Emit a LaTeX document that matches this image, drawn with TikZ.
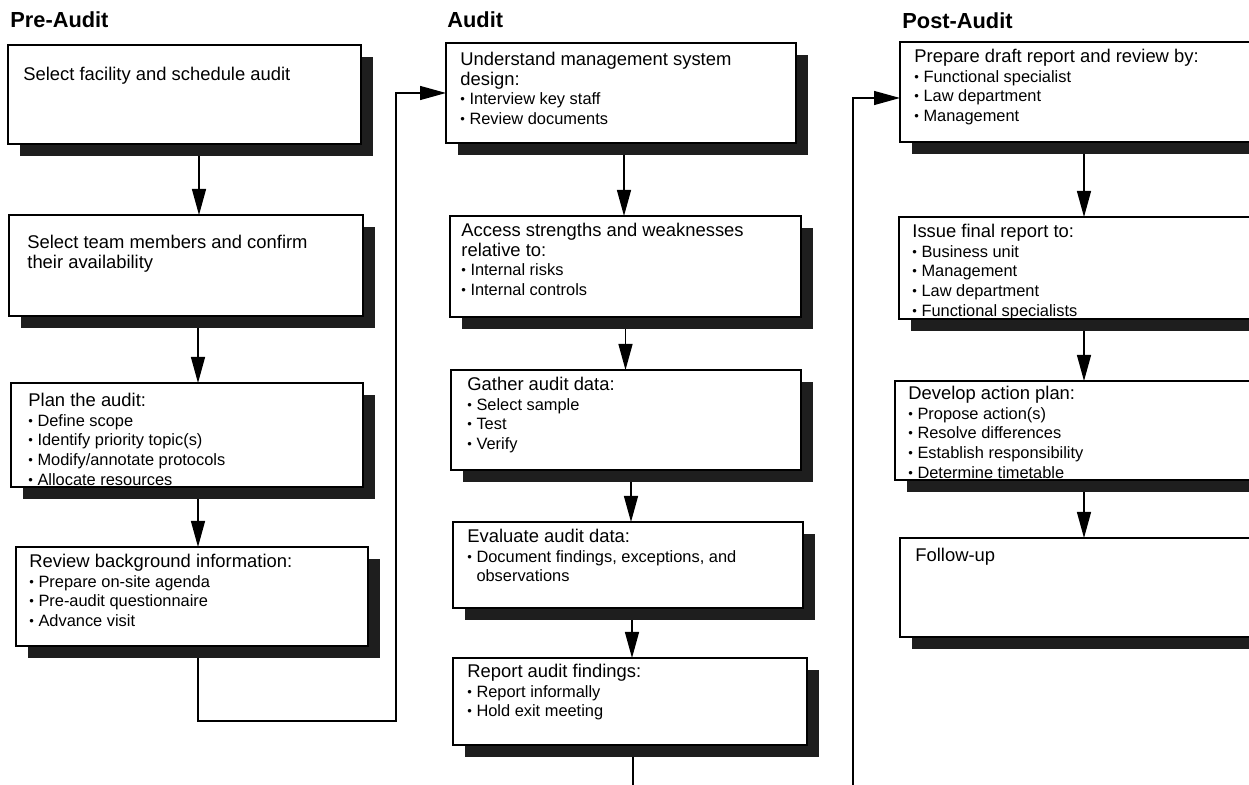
\documentclass[tikz,border=0pt]{standalone}
\usepackage{fontspec}
\setmainfont{Liberation Sans}
\usetikzlibrary{arrows.meta,shadows}

\definecolor{shadowink}{HTML}{1E1E1E}
\newcommand{\boxhead}[1]{{\fontsize{9.2pt}{9.8pt}\selectfont #1}}
\newcommand{\dotmark}{\raisebox{0.55pt}{\fontsize{6.5pt}{6.5pt}\selectfont\textbullet}}
\newcommand{\blt}[1]{\dotmark\ #1}

\tikzset{
  stepbox/.style={rectangle, draw=black, line width=0.65pt, fill=white,
    anchor=north west, inner sep=0pt, outer sep=0pt,
    general shadow={fill=shadowink, shadow xshift=6pt, shadow yshift=-6pt}},
  boxtext/.style={anchor=north west, inner sep=0pt, align=left,
    font=\fontsize{8.2pt}{9.8pt}\selectfont},
  phase/.style={anchor=base west, inner sep=0pt,
    font=\fontsize{10.9pt}{12pt}\selectfont\bfseries},
  flow/.style={draw=black, line width=0.65pt, -{Triangle[length=13pt,width=7pt]}},
}

\begin{document}
\begin{tikzpicture}[x=0.5pt,y=-0.5pt]
  \useasboundingbox (0,0) rectangle (1249,785);
  \clip (0,0) rectangle (1249,785);

  % Phase titles
  \node[phase] (prehd) at (10,28) {Pre-Audit};
  \node[phase] (audhd) at (447,28) {Audit};
  \node[phase] (posthd) at (902,29) {Post-Audit};

  % Pre-Audit column
  \node[stepbox, minimum width=176.5pt, minimum height=49.5pt] (pa1) at (8,45) {};
  \node[stepbox, minimum width=177pt, minimum height=50.5pt] (pa2) at (9,215) {};
  \node[stepbox, minimum width=176pt, minimum height=52pt] (pa3) at (11,383) {};
  \node[stepbox, minimum width=176pt, minimum height=49.5pt] (pa4) at (16,547) {};

  \node[boxtext] (pa1t) at ([xshift=7.5pt,yshift=-11pt]pa1.north west)
    {\boxhead{Select facility and schedule audit}};
  \node[boxtext] (pa2t) at ([xshift=9pt,yshift=-10pt]pa2.north west)
    {\boxhead{Select team members and confirm}\\ \boxhead{their availability}};
  \node[boxtext] (pa3t) at ([xshift=8.5pt,yshift=-5pt]pa3.north west)
    {\boxhead{Plan the audit:}\\ \blt{Define scope}\\ \blt{Identify priority topic(s)}\\
     \blt{Modify/annotate protocols}\\ \blt{Allocate resources}};
  \node[boxtext] (pa4t) at ([xshift=6.5pt,yshift=-3.5pt]pa4.north west)
    {\boxhead{Review background information:}\\ \blt{Prepare on-site agenda}\\
     \blt{Pre-audit questionnaire}\\ \blt{Advance visit}};

  % Audit column
  \node[stepbox, minimum width=175pt, minimum height=50pt] (au1) at (446,43) {};
  \node[stepbox, minimum width=175.5pt, minimum height=50.5pt] (au2) at (450,216) {};
  \node[stepbox, minimum width=175pt, minimum height=50pt] (au3) at (451,370) {};
  \node[stepbox, minimum width=175pt, minimum height=43pt] (au4) at (453,522) {};
  \node[stepbox, minimum width=177pt, minimum height=43.5pt] (au5) at (453,658) {};

  \node[boxtext] (au1t) at ([xshift=7pt,yshift=-4.5pt]au1.north west)
    {\boxhead{Understand management system}\\ \boxhead{design:}\\
     \blt{Interview key staff}\\ \blt{Review documents}};
  \node[boxtext] (au2t) at ([xshift=5.5pt,yshift=-3.5pt]au2.north west)
    {\boxhead{Access strengths and weaknesses}\\ \boxhead{relative to:}\\
     \blt{Internal risks}\\ \blt{Internal controls}};
  \node[boxtext] (au3t) at ([xshift=8pt,yshift=-3.5pt]au3.north west)
    {\boxhead{Gather audit data:}\\ \blt{Select sample}\\ \blt{Test}\\ \blt{Verify}};
  \node[boxtext] (au4t) at ([xshift=7pt,yshift=-3.5pt]au4.north west)
    {\boxhead{Evaluate audit data:}\\ \blt{Document findings, exceptions, and}\\
     \phantom{\dotmark\ }observations};
  \node[boxtext] (au5t) at ([xshift=7pt,yshift=-3pt]au5.north west)
    {\boxhead{Report audit findings:}\\ \blt{Report informally}\\ \blt{Hold exit meeting}};

  % Post-Audit column (runs past the right edge)
  \node[stepbox, minimum width=184pt, minimum height=50pt] (po1) at (900,42) {};
  \node[stepbox, minimum width=185pt, minimum height=51pt] (po2) at (899,217) {};
  \node[stepbox, minimum width=189pt, minimum height=49.5pt] (po3) at (895,381) {};
  \node[stepbox, minimum width=184pt, minimum height=49.5pt] (po4) at (900,538) {};

  \node[boxtext] (po1t) at ([xshift=7pt,yshift=-3.5pt]po1.north west)
    {\boxhead{Prepare draft report and review by:}\\ \blt{Functional specialist}\\
     \blt{Law department}\\ \blt{Management}};
  \node[boxtext] (po2t) at ([xshift=6.5pt,yshift=-3.5pt]po2.north west)
    {\boxhead{Issue final report to:}\\ \blt{Business unit}\\ \blt{Management}\\
     \blt{Law department}\\ \blt{Functional specialists}};
  \node[boxtext] (po3t) at ([xshift=6.5pt,yshift=-2.5pt]po3.north west)
    {\boxhead{Develop action plan:}\\ \blt{Propose action(s)}\\ \blt{Resolve differences}\\
     \blt{Establish responsibility}\\ \blt{Determine timetable}};
  \node[boxtext] (po4t) at ([xshift=7.5pt,yshift=-5pt]po4.north west)
    {\boxhead{Follow-up}};

  % Arrows inside the columns
  \draw[flow] ([xshift=7.25pt,yshift=-6pt]pa1.south) -- ([xshift=6.5pt]pa2.north);
  \draw[flow] ([xshift=6pt,yshift=-6pt]pa2.south) -- ([xshift=5.5pt]pa3.north);
  \draw[flow] ([xshift=5.5pt,yshift=-6pt]pa3.south) -- ([xshift=3pt]pa4.north);

  \draw[flow] ([xshift=1.5pt,yshift=-6pt]au1.south) -- ([xshift=-0.75pt]au2.north);
  \draw[flow] ([yshift=-6pt]au2.south) -- ([xshift=-0.25pt]au3.north);
  \draw[flow] ([xshift=2.5pt,yshift=-6pt]au3.south) -- ([xshift=1.5pt]au4.north);
  \draw[flow] ([xshift=2pt,yshift=-6pt]au4.south) -- ([xshift=1pt]au5.north);

  \draw[flow] ([yshift=-6pt]po1.south) -- (po2.north);
  \draw[flow] ([yshift=-6pt]po2.south) -- (po3.north);
  \draw[flow] ([yshift=-6pt]po3.south) -- (po4.north);

  % Links between phases
  \draw[flow] ([xshift=3pt,yshift=-6pt]pa4.south) -- ++(0,63)
    -| ([xshift=-25pt]au1.west) -- (au1.west);
  \draw[flow] ([xshift=1.5pt,yshift=-6pt]au5.south) -- ++(0,90)
    -| ([xshift=-23.5pt,yshift=-3pt]po1.west) -- ([yshift=-3pt]po1.west);
\end{tikzpicture}
\end{document}
